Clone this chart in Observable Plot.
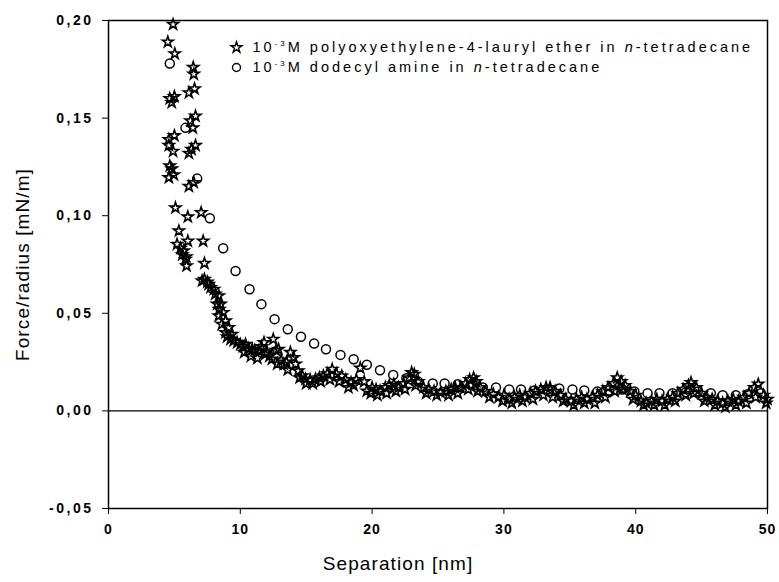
<!DOCTYPE html>
<html><head><meta charset="utf-8">
<script src="https://cdn.jsdelivr.net/npm/d3@7"></script>
<script src="https://cdn.jsdelivr.net/npm/@observablehq/plot@0.6"></script>
<style>body{margin:0;background:#fff} svg{display:block}</style>
</head><body><div id="chart"></div>
<script>
// polyoxyethylene-4-lauryl ether (stars)
const starX = [4.9,4.5,5.03,6.43,6.47,6.53,6.1,4.65,5.0,4.8,6.6,6.22,6.4,4.58,5.0,4.58,4.9,6.6,6.1,6.3,4.65,4.96,4.58,4.8,6.1,6.47,5.08,6.02,7.03,5.34,5.2,5.46,5.6,5.9,6.02,7.18,5.84,5.92,5.7,7.28,7.1,7.28,7.5,7.6,7.74,8.0,8.1,8.37,8.25,8.5,8.4,8.7,8.37,8.6,8.88,9.13,8.88,9.38,9.0,9.26,9.5,9.76,10.0,10.2,10.4,10.6,10.9,11.1,11.4,11.6,11.8,12.0,12.2,12.5,12.4,12.7,12.9,13.1,13.3,13.5,13.8,14.06,14.2,14.4,14.7,14.95,15.3,15.7,16.0,16.3,16.6,16.97,17.3,17.7,18.0,18.4,18.8,19.1,19.6,20.0,20.3,20.6,21.0,21.3,21.65,22.0,22.4,22.8,23.0,23.2,23.5,23.9,24.3,24.7,25.2,25.6,26.0,26.3,26.7,27.1,27.4,27.7,27.9,28.2,28.6,29.2,29.6,30.0,30.4,30.8,31.2,31.6,32.0,32.4,32.8,33.2,33.5,33.9,34.3,34.7,35.1,35.5,35.9,36.3,36.7,37.1,37.5,37.9,38.3,38.6,38.9,39.2,39.6,40.0,40.4,40.8,41.2,41.6,42.0,42.4,42.8,43.2,43.6,44.0,44.2,44.6,45.0,45.4,45.8,46.2,46.6,47.0,47.4,47.8,48.2,48.6,49.0,49.3,49.7,50.0,
  10.3,10.8,11.3,11.9,12.8,13.6,14.5,15.0,15.5,16.1,16.8,17.5,18.2,18.6,19.4,19.9,20.4,21.1,21.8,22.5,23.3,24.1,24.9,25.8,26.5,27.3,28.0,28.9,29.9,30.6,31.4,32.2,33.0,33.7,34.5,35.3,36.1,36.9,37.7,38.4,39.0,39.8,40.6,41.4,42.2,43.0,43.8,44.4,45.2,46.0,46.8,47.6,48.4,49.1,49.9];
const starY = [0.198,0.189,0.183,0.176,0.1725,0.165,0.163,0.160,0.161,0.158,0.151,0.1486,0.145,0.139,0.141,0.136,0.133,0.136,0.132,0.134,0.1255,0.121,0.1195,0.124,0.115,0.117,0.104,0.0994,0.1016,0.0922,0.0854,0.0833,0.080,0.079,0.087,0.087,0.0777,0.0743,0.082,0.0756,0.0666,0.0674,0.066,0.0649,0.0632,0.0623,0.0598,0.059,0.0547,0.0547,0.052,0.0504,0.0487,0.0444,0.0461,0.0427,0.0401,0.0393,0.038,0.0367,0.036,0.035,0.034,0.033,0.0341,0.032,0.0316,0.031,0.0307,0.033,0.035,0.030,0.028,0.0367,0.0265,0.031,0.0316,0.026,0.0239,0.025,0.030,0.0273,0.024,0.0205,0.018,0.0162,0.016,0.0162,0.017,0.0179,0.019,0.0213,0.019,0.0179,0.016,0.0145,0.016,0.022,0.0102,0.012,0.011,0.0102,0.012,0.013,0.0137,0.012,0.014,0.017,0.0196,0.0188,0.015,0.012,0.011,0.010,0.0094,0.010,0.011,0.012,0.012,0.014,0.016,0.017,0.015,0.012,0.010,0.0085,0.007,0.008,0.006,0.007,0.008,0.007,0.009,0.010,0.011,0.012,0.012,0.010,0.008,0.006,0.005,0.006,0.007,0.006,0.007,0.008,0.010,0.012,0.014,0.017,0.015,0.013,0.010,0.008,0.005,0.004,0.005,0.006,0.005,0.006,0.007,0.009,0.011,0.013,0.0145,0.012,0.009,0.007,0.006,0.005,0.004,0.005,0.006,0.005,0.007,0.009,0.012,0.0137,0.008,0.006,
  0.030,0.028,0.027,0.029,0.024,0.021,0.017,0.014,0.014,0.015,0.016,0.015,0.012,0.013,0.015,0.009,0.008,0.009,0.010,0.011,0.013,0.009,0.008,0.008,0.009,0.011,0.010,0.007,0.005,0.004,0.005,0.006,0.008,0.007,0.005,0.003,0.004,0.004,0.007,0.010,0.011,0.006,0.003,0.003,0.003,0.005,0.008,0.009,0.005,0.003,0.002,0.003,0.004,0.007,0.004];
// dodecyl amine (circles)
const circX = [4.65,5.84,6.73,7.69,8.7,9.64,10.7,11.6,12.6,13.6,14.6,15.6,16.5,17.6,18.6,19.6,20.6,21.6,22.6,23.5,24.6,25.5,26.5,27.5,28.4,29.4,30.4,31.3,32.3,33.3,34.2,35.2,36.1,37.1,38.0,39.0,39.9,40.9,41.8,42.8,43.8,44.7,45.7,46.6,47.6,48.5,49.5];
const circY = [0.178,0.145,0.119,0.0987,0.0833,0.0717,0.0623,0.0547,0.047,0.0418,0.038,0.0345,0.0316,0.0287,0.0265,0.0236,0.0208,0.0184,0.0167,0.015,0.014,0.014,0.0137,0.0133,0.012,0.012,0.011,0.011,0.0105,0.011,0.0115,0.011,0.0105,0.010,0.0105,0.011,0.010,0.009,0.009,0.009,0.0095,0.010,0.009,0.008,0.008,0.0085,0.009];
const xTicks = [0,10,20,30,40,50];
const yTicks = [-0.05,0,0.05,0.10,0.15,0.20];
const legendLabels = ["10⁻³M polyoxyethylene-4-lauryl ether in n-tetradecane","10⁻³M dodecyl amine in n-tetradecane"];
const xTitle = "Separation [nm]";
const yTitle = "Force/radius [mN/m]";

const stars = starX.map((x,i)=>({x, y: starY[i]}));
const circles = circX.map((x,i)=>({x, y: circY[i]}));
const fmt = d => d3.format(".2f")(d).replace(".", ",").replace("−","-");

const svg = Plot.plot({
  width: 779, height: 582,
  marginLeft: 108, marginRight: 12, marginTop: 20, marginBottom: 74,
  style: {fontFamily: "'Liberation Sans', Arial, sans-serif", background: "white", color: "black"},
  x: {domain: [0, 50]},
  y: {domain: [-0.05, 0.2]},
  marks: [
    Plot.ruleY([0], {stroke: "black", strokeWidth: 1.2}),
    Plot.dot(circles, {x: "x", y: "y", r: 4.5, stroke: "black", strokeWidth: 1.5, fill: "none"}),
    Plot.dot(stars, {x: "x", y: "y", symbol: "star", r: 3.4, stroke: "black", strokeWidth: 1.6, fill: "none"}),
    Plot.frame({stroke: "black", strokeWidth: 1.5}),
    Plot.axisX({ticks: xTicks, tickSize: 6, tickPadding: 10, fontSize: 14, fontWeight: "bold", label: null, tickFormat: d => String(d)}),
    Plot.axisY({ticks: yTicks, tickSize: 6, tickPadding: 9, fontSize: 14, fontWeight: "bold", label: null, tickFormat: fmt}),
    Plot.text([xTitle], {frameAnchor: "bottom", dx: -40, dy: 55, lineAnchor: "middle", textAnchor: "middle", fontSize: 19}),
    Plot.text([yTitle], {frameAnchor: "left", dx: -86, rotate: -90, textAnchor: "middle", lineAnchor: "middle", fontSize: 19}),
    Plot.dot([0], {frameAnchor: "top-left", dx: 128, dy: 27, symbol: "star", r: 3.4, stroke: "black", strokeWidth: 1.4, fill: "none"}),
    Plot.dot([0], {frameAnchor: "top-left", dx: 128, dy: 47, r: 4, stroke: "black", strokeWidth: 1.4, fill: "none"}),
    Plot.text([legendLabels[0]], {frameAnchor: "top-left", dx: 144, dy: 27, textAnchor: "start", lineAnchor: "middle", fontSize: 14.5}),
    Plot.text([legendLabels[1]], {frameAnchor: "top-left", dx: 144, dy: 47, textAnchor: "start", lineAnchor: "middle", fontSize: 14.5})
  ]
});

// letter spacing to match the wide lettering of the original
d3.select(svg).selectAll("text").each(function() {
  const t = this.textContent;
  if (t === xTitle || t === yTitle) d3.select(this).attr("letter-spacing", 1.1);
});
d3.select(svg).selectAll("[aria-label='y-axis tick label'] text").attr("letter-spacing", 2.5);
d3.select(svg).selectAll("[aria-label='x-axis tick label'] text").attr("letter-spacing", 1);

d3.select(svg).selectAll("text").each(function() {
  const t = this.textContent;
  if (!legendLabels.includes(t)) return;
  const m = t.match(/^10⁻³(M .* in )n(-tetradecane)$/);
  if (!m) return;
  const sel = d3.select(this);
  sel.text(null).attr("letter-spacing", 3);
  sel.append("tspan").text("10");
  sel.append("tspan").attr("dy", -6).attr("font-size", 8).text("-3");
  sel.append("tspan").attr("dy", 6).text(m[1]);
  sel.append("tspan").attr("font-style", "italic").text("n");
  sel.append("tspan").text(m[2]);
});

document.getElementById("chart").appendChild(svg);
</script>
</body></html>
